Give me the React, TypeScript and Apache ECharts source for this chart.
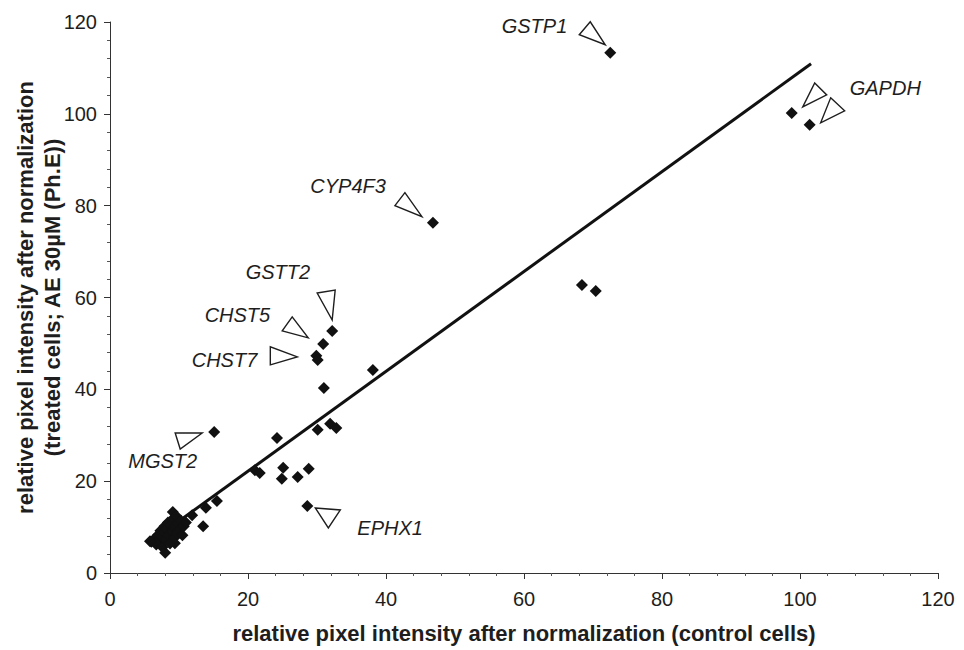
import React, { useEffect, useRef } from "react";
import * as echarts from "echarts";

// Spot intensities: control cells (x) vs. treated cells (y)
const CONTROL = [
  72.5, 98.8, 101.4, 46.8, 68.4, 70.4, 38.1, 32.2, 30.9, 29.9, 30.1, 31.0,
  15.1, 24.2, 30.1, 31.9, 32.8, 21.0, 21.7, 25.1, 24.9, 27.2, 28.8, 28.6,
  15.5, 13.9, 13.5, 11.9, 9.1, 8.0, 9.4,
  6.0, 6.4, 6.7, 6.9, 7.1, 7.3, 7.5, 7.6, 7.8, 7.9, 8.1, 8.2, 8.4, 8.5, 8.7,
  8.8, 9.0, 9.1, 9.3, 9.4, 9.6, 9.7, 9.9, 10.1, 10.3, 10.5, 10.7, 11.0, 5.8,
];
const TREATED = [
  113.3, 100.2, 97.6, 76.3, 62.7, 61.4, 44.2, 52.7, 49.9, 47.3, 46.4, 40.3,
  30.7, 29.4, 31.2, 32.5, 31.6, 22.4, 21.8, 22.9, 20.5, 20.9, 22.7, 14.6,
  15.7, 14.2, 10.2, 12.6, 13.3, 4.4, 6.5,
  6.8, 7.4, 6.2, 8.2, 7.0, 9.2, 7.8, 5.6, 8.8, 10.2, 7.2, 9.6, 11.0, 8.2, 6.4,
  10.4, 9.0, 11.8, 7.6, 10.0, 12.4, 8.6, 10.8, 9.4, 11.4, 8.2, 10.2, 11.0, 6.9,
];

// Regression line end points
const TREND_X = [6.5, 101.6];
const TREND_Y = [7.5, 110.9];

// Highlighted genes (one arrow per spot)
const CALLOUT_GENES = ["GSTP1", "GAPDH", "GAPDH", "CYP4F3", "GSTT2", "CHST5", "CHST7", "MGST2", "EPHX1"];
const CALLOUT_X = [72.5, 98.8, 101.4, 46.8, 32.2, 30.9, 29.9, 15.1, 28.6];
const CALLOUT_Y = [113.3, 100.2, 97.6, 76.3, 52.7, 49.9, 47.3, 30.7, 14.6];

const X_TICKS = [0, 20, 40, 60, 80, 100, 120];
const Y_TICKS = [0, 20, 40, 60, 80, 100, 120];

// Arrow-head outlines and label placement, in pixels relative to the spot
type Callout = { tri: number[][]; label?: { dx: number; dy: number; align: string } };
const CALLOUT_LAYOUT: Callout[] = [
  { tri: [[-20, -31], [-31, -18], [-5, -8]], label: { dx: -43, dy: -27, align: "right" } },
  { tri: [[23, -30], [35, -18], [11, -6]], label: { dx: 58, dy: -25, align: "left" } },
  { tri: [[21, -27], [35, -14], [11, -2]] },
  { tri: [[-28, -30], [-38, -17], [-11, -6]], label: { dx: -47, dy: -37, align: "right" } },
  { tri: [[-15, -38], [3, -41], [0, -11]], label: { dx: -22, dy: -59, align: "right" } },
  { tri: [[-31, -27], [-41, -13], [-15, -6]], label: { dx: -53, dy: -29, align: "right" } },
  { tri: [[-46, -9], [-46, 9], [-19, 1]], label: { dx: -59, dy: 4, align: "right" } },
  { tri: [[-39, 1], [-34, 17], [-12, 1]], label: { dx: -17, dy: 29, align: "right" } },
  { tri: [[8, 2], [33, 4], [21, 22]], label: { dx: 50, dy: 22, align: "left" } },
];

const FONT = '"Liberation Sans", Arial, sans-serif';
const INK = "#1e1e1e";

export default function App() {
  const ref = useRef<HTMLDivElement>(null);

  useEffect(() => {
    if (!ref.current) return;
    const chart = echarts.init(ref.current, undefined, { renderer: "svg" });

    const axisCommon = {
      type: "value",
      min: 0,
      max: 120,
      interval: 20,
      nameLocation: "middle",
      nameMoveOverlap: false,
      splitLine: { show: false },
      axisLine: { show: true, lineStyle: { color: "#333", width: 1 } },
      axisTick: { show: true, inside: false, length: 6, lineStyle: { color: "#333" } },
      minorTick: { show: true, splitNumber: 5, length: 3, lineStyle: { color: "#555" } },
      nameTextStyle: { fontFamily: FONT, fontWeight: "bold", fontSize: 22, color: INK, lineHeight: 27 },
    };

    chart.setOption({
      animation: false,
      backgroundColor: "#ffffff",
      textStyle: { fontFamily: FONT },
      grid: {
        left: 110,
        right: 26,
        top: 22,
        bottom: 77,
        containLabel: false,
        outerBoundsMode: "none",
      },
      xAxis: {
        ...axisCommon,
        name: "relative pixel intensity after normalization (control cells)",
        nameGap: 47,
        axisLabel: {
          fontFamily: FONT,
          fontSize: 20,
          color: INK,
          margin: 16,
          formatter: (v: number) => (X_TICKS.includes(v) ? String(v) : ""),
        },
      },
      yAxis: {
        ...axisCommon,
        name: "relative pixel intensity after normalization\n(treated cells; AE 30µM (Ph.E))",
        nameGap: 44,
        axisLabel: {
          fontFamily: FONT,
          fontSize: 20,
          color: INK,
          margin: 13,
          formatter: (v: number) => (Y_TICKS.includes(v) ? String(v) : ""),
        },
      },
      series: [
        {
          type: "line",
          data: TREND_X.map((x, i) => [x, TREND_Y[i]]),
          showSymbol: false,
          symbol: "none",
          lineStyle: { color: "#111", width: 3 },
          silent: true,
          z: 2,
        },
        {
          type: "scatter",
          data: CONTROL.map((x, i) => [x, TREATED[i]]),
          symbol: "diamond",
          symbolSize: 12,
          itemStyle: { color: "#111", opacity: 1 },
          silent: true,
          z: 3,
        },
        {
          type: "custom",
          coordinateSystem: "cartesian2d",
          clip: false,
          silent: true,
          z: 4,
          data: CALLOUT_X.map((x, i) => [x, CALLOUT_Y[i]]),
          renderItem: (params: any, api: any) => {
            const i = params.dataIndex;
            const c = api.coord([api.value(0), api.value(1)]);
            const lay = CALLOUT_LAYOUT[i];
            const children: any[] = [
              {
                type: "polygon",
                shape: { points: lay.tri.map(([dx, dy]) => [c[0] + dx, c[1] + dy]) },
                style: { fill: "#ffffff", stroke: INK, lineWidth: 1.4 },
              },
            ];
            if (lay.label) {
              children.push({
                type: "text",
                x: c[0] + lay.label.dx,
                y: c[1] + lay.label.dy,
                style: {
                  text: CALLOUT_GENES[i],
                  font: `italic 20px ${FONT}`,
                  fill: INK,
                  align: lay.label.align,
                  verticalAlign: "middle",
                },
              });
            }
            return { type: "group", children };
          },
        },
      ],
    });

    return () => chart.dispose();
  }, []);

  return (
    <div
      ref={ref}
      style={{ position: "fixed", left: 0, top: 0, width: 964, height: 650, background: "#fff" }}
    />
  );
}
